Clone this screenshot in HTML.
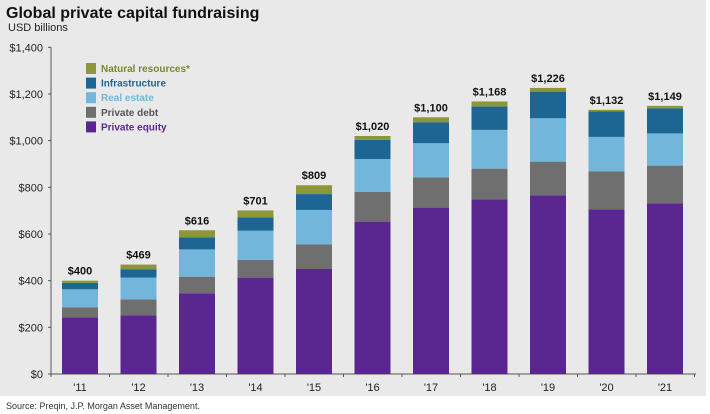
<!DOCTYPE html>
<html><head><meta charset="utf-8"><style>
html,body{margin:0;padding:0;background:#fff;}
svg{display:block;font-family:"Liberation Sans",Arial,sans-serif;}
</style></head><body>
<svg id="chart" width="710" height="414">
<rect x="0" y="0" width="706" height="396" fill="#e9e9e9"/>
<text x="6" y="18" font-size="16" font-weight="bold" fill="#111">Global private capital fundraising</text>
<text x="8" y="31" font-size="11" fill="#222">USD billions</text>
<text x="6" y="409" font-size="9" fill="#333">Source: Preqin, J.P. Morgan Asset Management.</text>
<g id="axes"></g>
<g id="bars"></g>
<g id="legend"></g>
</svg>
<script>
const categories = ["'11","'12","'13","'14","'15","'16","'17","'18","'19","'20","'21"];
const privateEquity = [243,251,346,413,450,653,713,749,766,706,731];
const privateDebt = [43,69,71,76,106,128,130,131,144,163,162];
const realEstate = [77,93,117,125,147,140,146,166,186,147,138];
const infrastructure = [28,36,52,57,68,82,90,100,114,109,108];
const naturalResources = [9,20,30,30,38,17,21,22,16,7,10];
const totals = [400,469,616,701,809,1020,1100,1168,1226,1132,1149];
const yTicks = [0,200,400,600,800,1000,1200,1400];

const NS="http://www.w3.org/2000/svg";
const x0=51, xEnd=696, firstBar=62, step=58.5, barW=36;
const yBase=374, yTop=47.3, yMax=1400;
function yScale(v){return yBase-(v/yMax)*(yBase-yTop);}
function xScale(i){return firstBar+i*step;}
function mk(tag,attrs,parent){const e=document.createElementNS(NS,tag);for(const k in attrs)e.setAttribute(k,attrs[k]);parent.appendChild(e);return e;}
const axes=document.getElementById('axes'), bars=document.getElementById('bars'), legend=document.getElementById('legend');

let l=mk('line',{x1:x0,y1:yTop,x2:x0,y2:yBase,stroke:'#555','stroke-width':1},axes);


l=mk('line',{x1:x0,y1:yBase,x2:xEnd,y2:yBase,stroke:'#555','stroke-width':1},axes);


yTicks.forEach(t=>{
  const y=yScale(t);
  mk('line',{x1:x0-3,y1:y,x2:x0,y2:y,stroke:'#555'},axes);
  const tx=mk('text',{x:43,y:y+4,'font-size':11,'text-anchor':'end',fill:'#222'},axes);
  tx.textContent='$'+t.toLocaleString('en-US');
  
  
});
for(let i=0;i<=categories.length;i++){
  const xt=x0+i*step;
  mk('line',{x1:xt,y1:yBase,x2:xt,y2:yBase+3,stroke:'#555'},axes);
}
const series=[
  {name:'private-equity',vals:privateEquity,color:'#5a2690'},
  {name:'private-debt',vals:privateDebt,color:'#6f6f6f'},
  {name:'real-estate',vals:realEstate,color:'#72b6dc'},
  {name:'infrastructure',vals:infrastructure,color:'#1d6694'},
  {name:'natural-resources',vals:naturalResources,color:'#8e963a'}
];
categories.forEach((c,i)=>{
  let cum=0;
  const x=xScale(i);
  series.forEach(s=>{
    const v=s.vals[i];
    const r=mk('rect',{x:x,y:yScale(cum+v),width:barW,height:yScale(cum)-yScale(cum+v),fill:s.color},bars);
    
    
    cum+=v;
  });
  const t=mk('text',{x:x+barW/2,y:yScale(totals[i])-6,'font-size':11,'font-weight':'bold','text-anchor':'middle',fill:'#111'},bars);
  t.textContent='$'+totals[i].toLocaleString('en-US');
  
  
  const xl=mk('text',{x:x+barW/2,y:391,'font-size':11,'text-anchor':'middle',fill:'#222'},bars);
  xl.textContent=c;
  
  
});
const legendItems=[
  {label:'Natural resources*',color:'#8e963a',text:'#7d8630'},
  {label:'Infrastructure',color:'#1d6694',text:'#1d6694'},
  {label:'Real estate',color:'#72b6dc',text:'#72b6dc'},
  {label:'Private debt',color:'#6f6f6f',text:'#555'},
  {label:'Private equity',color:'#5a2690',text:'#5a2690'}
];
legendItems.forEach((it,i)=>{
  const y=63+i*14.6;
  const g=mk('g',{},legend);
  
  
  mk('rect',{x:86,y:y,width:10,height:11,fill:it.color},g);
  const t=mk('text',{x:101,y:y+9,'font-size':10,'font-weight':'bold',fill:it.text},g);
  t.textContent=it.label;
});
</script>
</body></html>
